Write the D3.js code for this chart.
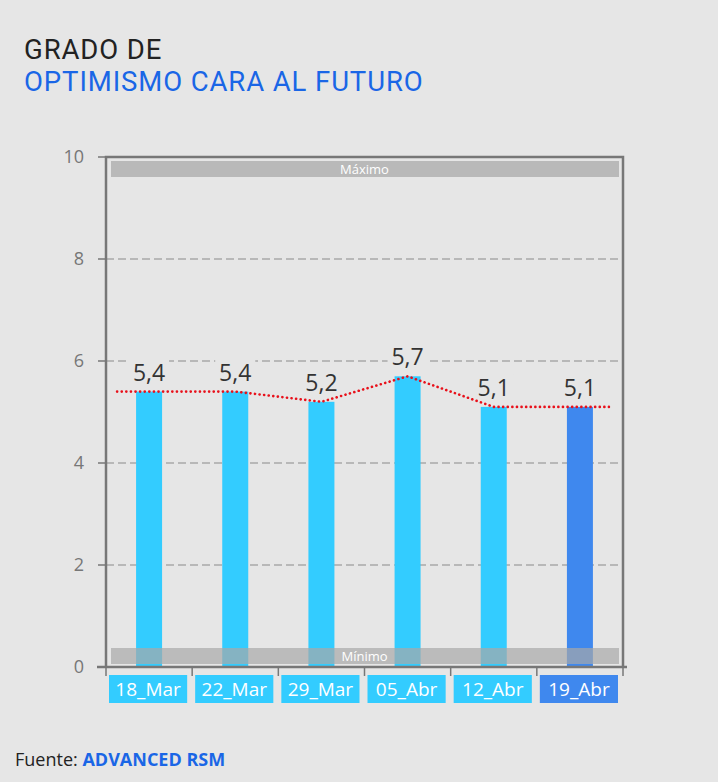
<!DOCTYPE html>
<html><head><meta charset="utf-8">
<script src="https://cdn.jsdelivr.net/npm/d3@7"></script>
<style>
html,body{margin:0;padding:0;background:#e6e6e6;}
svg{display:block;font-family:"Open Sans","Noto Sans",sans-serif;}
</style></head>
<body>
<svg id="c" width="718" height="782"></svg>
<script>
const categories = ["18_Mar","22_Mar","29_Mar","05_Abr","12_Abr","19_Abr"];
const values = [5.4, 5.4, 5.2, 5.7, 5.1, 5.1];
const labels = ["5,4","5,4","5,2","5,7","5,1","5,1"];
const yTicks = [0,2,4,6,8,10];
const highlight = "19_Abr";

const svg = d3.select("#c");
const L = 106, R = 623, T = 157, B = 667;
const bg = "#e6e6e6";
const x = d3.scaleBand().domain(categories).range([L, R]).paddingInner(0).paddingOuter(0);
const y = d3.scaleLinear().domain([0, 10]).range([B, T]);
const barW = 26;
const light = "#33ccff", dark = "#3f88ee";

// title
svg.append("text").attr("x",24).attr("y",59).attr("font-family","Roboto, sans-serif").attr("font-size",27.5).attr("letter-spacing",0.9).attr("fill","#222").text("GRADO DE");
svg.append("text").attr("x",24).attr("y",91).attr("font-family","Roboto, sans-serif").attr("font-size",27.5).attr("letter-spacing",0.9).attr("fill","#1a66e6").text("OPTIMISMO CARA AL FUTURO");

// grid
svg.append("g").selectAll("line").data(yTicks.filter(t=>t>0 && t<10)).join("line")
  .attr("x1",L).attr("x2",R).attr("y1",d=>y(d)).attr("y2",d=>y(d))
  .attr("stroke","#8a8a8a").attr("stroke-dasharray","8,4").attr("stroke-width",1);

// y axis ticks
const ya = svg.append("g");
ya.selectAll("line").data(yTicks).join("line")
  .attr("x1",98).attr("x2",L).attr("y1",d=>y(d)).attr("y2",d=>y(d)).attr("stroke","#777").attr("stroke-width",1.5);
ya.selectAll("text").data(yTicks).join("text")
  .attr("x",84).attr("y",d=>y(d)+6).attr("text-anchor","end").attr("font-size",18).attr("fill","#777").text(d=>d);

// Máximo band
svg.append("rect").attr("x",111).attr("y",y(10)+4).attr("width",508).attr("height",16).attr("fill","#b9b9b9");
svg.append("text").attr("x",(L+R)/2).attr("y",y(10)+16.5).attr("text-anchor","middle").attr("font-size",13).attr("fill","#fff").text("Máximo");

// bars
svg.append("g").selectAll("rect").data(categories).join("rect")
  .attr("x",(d)=>x(d)+x.bandwidth()/2-barW/2)
  .attr("y",(d,i)=>y(values[i]))
  .attr("width",barW)
  .attr("height",(d,i)=>y(0)-y(values[i]))
  .attr("fill",d=>d===highlight?dark:light);

// Mínimo band
svg.append("rect").attr("x",111).attr("y",y(0)-19).attr("width",508).attr("height",16).attr("fill","#a8a8a8").attr("opacity",0.7);
svg.append("text").attr("x",(L+R)/2).attr("y",y(0)-6.5).attr("text-anchor","middle").attr("font-size",13).attr("fill","#fff").text("Mínimo");

// frame
svg.append("path").attr("d",`M${L},${B} V${T} H${R} V${B}`).attr("fill","none").attr("stroke","#777").attr("stroke-width",2.5);
svg.append("line").attr("x1",97).attr("x2",627).attr("y1",B).attr("y2",B).attr("stroke","#777").attr("stroke-width",2.5);
// x tick marks
const bounds = categories.map(c=>x(c)).concat([R]);
svg.append("g").selectAll("line").data(bounds).join("line")
  .attr("x1",d=>d).attr("x2",d=>d).attr("y1",B).attr("y2",B+9).attr("stroke","#777").attr("stroke-width",1.5);

// red dotted line
const cx = d => x(d)+x.bandwidth()/2;
const pts = categories.map((c,i)=>[cx(c), y(values[i])]);
const ext = 32;
const linePts = [[pts[0][0]-ext, pts[0][1]], ...pts, [pts[pts.length-1][0]+ext-3, pts[pts.length-1][1]]];
svg.append("path").attr("d", d3.line()(linePts)).attr("fill","none").attr("stroke","#e8101a")
  .attr("stroke-width",2.6).attr("stroke-dasharray","0.1,4.5").attr("stroke-linecap","round");

// value labels with background knockout
const vl = svg.append("g").selectAll("g").data(categories).join("g");
vl.append("rect").attr("x",d=>cx(d)-20).attr("y",(d,i)=>y(values[i])-32).attr("width",40).attr("height",22).attr("fill",bg);
vl.append("text")
  .attr("x",d=>cx(d)).attr("y",(d,i)=>y(values[i])-11).attr("text-anchor","middle")
  .attr("font-size",23).attr("fill","#333").text((d,i)=>labels[i]);

// category label boxes
const cg = svg.append("g").selectAll("g").data(categories).join("g");
cg.append("rect").attr("x",d=>x(d)+3).attr("y",B+8).attr("width",x.bandwidth()-8).attr("height",28)
  .attr("fill",d=>d===highlight?dark:light);
cg.append("text").attr("x",d=>x(d)+3+(x.bandwidth()-8)/2).attr("y",B+29).attr("text-anchor","middle")
  .attr("font-size",19).attr("fill","#fff").text(d=>d);

// source
const s = svg.append("text").attr("x",15).attr("y",766).attr("font-size",18).attr("fill","#222");
s.append("tspan").text("Fuente: ");
s.append("tspan").attr("font-weight","bold").attr("fill","#1a66e6").text("ADVANCED RSM");
</script>
</body></html>
